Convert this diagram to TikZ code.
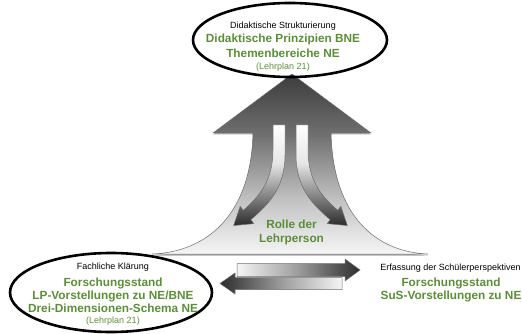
\documentclass[tikz,border=0pt]{standalone}
\usepackage{fontspec}
\setmainfont{Liberation Sans}

% colours
\definecolor{leafgreen}{HTML}{5C8D3A}
\definecolor{shA}{HTML}{F6F6F6}
\definecolor{shB}{HTML}{C2C2C2}
\definecolor{shC}{HTML}{707070}
\definecolor{shD}{HTML}{3C3C3C}
\definecolor{inD}{HTML}{2C2C2C}
\definecolor{inM}{HTML}{7A7A7A}
\definecolor{inL}{HTML}{E6E6E6}
\definecolor{edgegray}{HTML}{6E6E6E}

% shadings (the 25bp..75bp band covers the filled path)
\pgfdeclareverticalshading{bigarrowshade}{100bp}{color(0bp)=(shA); color(25bp)=(shA); color(40bp)=(shB); color(58bp)=(shC); color(75bp)=(shD); color(100bp)=(shD)}
\pgfdeclareverticalshading{innershade}{100bp}{color(0bp)=(inD); color(25bp)=(inD); color(38bp)=(inM); color(56bp)=(inL); color(75bp)=(white); color(100bp)=(white)}
\pgfdeclarehorizontalshading{rightshade}{100bp}{color(0bp)=(shA); color(25bp)=(shA); color(50bp)=(shB!80!black); color(75bp)=(inD); color(100bp)=(inD)}
\pgfdeclarehorizontalshading{leftshade}{100bp}{color(0bp)=(inD); color(25bp)=(inD); color(50bp)=(shB!80!black); color(75bp)=(shA); color(100bp)=(shA)}

\tikzset{
  smalltxt/.style={anchor=base, inner sep=0pt, font=\fontsize{9}{10}\selectfont},
  greentxt/.style={anchor=base, inner sep=0pt, text=leafgreen, font=\fontsize{11.8}{13}\selectfont\bfseries},
  greensmall/.style={anchor=base, inner sep=0pt, text=leafgreen, font=\fontsize{9}{10}\selectfont},
  ring/.style={draw=black, line width=2.6pt},
  thinedge/.style={draw=edgegray, line width=0.5pt},
}

\begin{document}
\begin{tikzpicture}[x=1pt,y=-1pt]
\useasboundingbox (0,0) rectangle (522,334);

% big upward arrow with flared base
\fill[black!35] (292,75.5) -- (371,134.5) -- (331,134.5)
  .. controls (333,216.5) and (375,253.5) .. (428,255.5) -- (152,255.5)
  .. controls (207,253.5) and (251,216.5) .. (253,134.5) -- (213,134.5) -- cycle;
\shade[shading=bigarrowshade, thinedge] (292,74) -- (371,133) -- (331,133)
  .. controls (333,215) and (375,252) .. (428,254) -- (152,254)
  .. controls (207,252) and (251,215) .. (253,133) -- (213,133) -- cycle;

% two curved arrows inside the shaft
\shade[shading=innershade, thinedge] (273,125) -- (273,150)
  .. controls (273,180) and (260,196) .. (243.3,210.3) -- (240.2,206.4)
  -- (233.7,225.5) -- (253.8,223.6) -- (250.7,219.7)
  .. controls (268,205) and (285,188) .. (285,155) -- (285,125) -- cycle;
\shade[shading=innershade, thinedge] (308,125) -- (308,150)
  .. controls (308,180) and (321,196) .. (337.7,210.3) -- (340.8,206.4)
  -- (347.3,225.5) -- (327.2,223.6) -- (330.3,219.7)
  .. controls (313,205) and (296,188) .. (296,155) -- (296,125) -- cycle;

\node[greentxt] (rolleA) at (291.5,228.2) {Rolle der};
\node[greentxt] (rolleB) at (291.5,242.2) {Lehrperson};

% exchange arrows between the two lower positions
\shade[shading=rightshade, thinedge] (237,263.5) -- (345,263.5) -- (345,259)
  -- (360,270) -- (345,281) -- (345,276.5) -- (237,276.5) -- cycle;
\shade[shading=leftshade, thinedge] (342,277.5) -- (235,277.5) -- (235,273)
  -- (220,283.5) -- (235,294) -- (235,289.5) -- (342,289.5) -- cycle;

% rings
\draw[ring] (290,40) ellipse [x radius=97, y radius=37];
\draw[ring] (111,292.5) ellipse [x radius=101, y radius=39.5];

% top position
\node[smalltxt] (topA) at (283,28.2) {Didaktische Strukturierung};
\node[greentxt] (topB) at (283,42.2) {Didaktische Prinzipien BNE};
\node[greentxt] (topC) at (283,57.2) {Themenbereiche NE};
\node[greensmall] (topD) at (283,69.2) {(Lehrplan 21)};

% bottom left position
\node[smalltxt] (leftA) at (113,269.2) {Fachliche Klärung};
\node[greentxt] (leftB) at (113,286.2) {Forschungsstand};
\node[greentxt] (leftC) at (113,299.2) {LP-Vorstellungen zu NE/BNE};
\node[greentxt] (leftD) at (113,312.2) {Drei-Dimensionen-Schema NE};
\node[greensmall] (leftE) at (113,323.2) {(Lehrplan 21)};

% bottom right position
\node[smalltxt] (rightA) at (450.5,270.2) {Erfassung der Schülerperspektiven};
\node[greentxt] (rightB) at (451,286.2) {Forschungsstand};
\node[greentxt] (rightC) at (451,299.2) {SuS-Vorstellungen zu NE};
\end{tikzpicture}
\end{document}
